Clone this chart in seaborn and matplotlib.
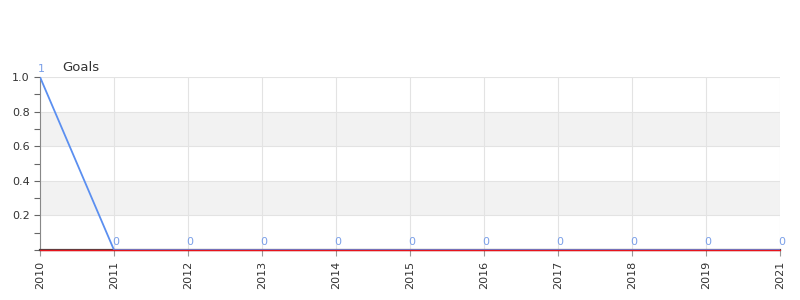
import matplotlib
matplotlib.use("Agg")
import matplotlib.pyplot as plt
import seaborn as sns
import pandas as pd
from matplotlib.ticker import MultipleLocator

years = ["2010", "2011", "2012", "2013", "2014", "2015", "2016", "2017", "2018", "2019", "2021"]
goals = [1, 0, 0, 0, 0, 0, 0, 0, 0, 0, 0]
baseline = [0] * len(years)
title = "Goals"

sns.set_theme(style="white")
plt.rcParams['font.family'] = ['DejaVu Sans']

df = pd.DataFrame({"year": years, "goals": goals, "baseline": baseline})

fig = plt.figure(figsize=(8, 3), dpi=100)
ax = fig.add_axes([0.05, 0.1667, 0.925, 0.5766])

# alternating bands
for lo, hi in [(0.2, 0.4), (0.6, 0.8)]:
    ax.axhspan(lo, hi, color="#f2f2f2", zorder=0, lw=0)
for y in [0.2, 0.4, 0.6, 0.8, 1.0]:
    ax.axhline(y, color="#e3e3e3", lw=0.8, zorder=0.5)
for i in range(len(years)):
    ax.axvline(i, color="#e3e3e3", lw=0.8, zorder=0.5)

sns.lineplot(data=df, x="year", y="goals", ax=ax, color="#5b8ff0", lw=1.3, zorder=3, sort=False)
sns.lineplot(data=df, x="year", y="baseline", ax=ax, color="#e8141c", lw=1.0, zorder=5,
             sort=False, clip_on=False)

for i, v in enumerate(goals):
    ax.text(i + 0.02, v + 0.02, str(v), color="#7a9fe8", fontsize=8, ha="center", va="bottom", zorder=6)

ax.set_xlim(0, len(years) - 1)
ax.set_ylim(0, 1.0)
ax.set_xticks(range(len(years)))
ax.set_xticklabels(years, rotation=90, fontsize=8, color="#333333")
ax.set_yticks([0.2, 0.4, 0.6, 0.8, 1.0])
ax.set_yticklabels(["0.2", "0.4", "0.6", "0.8", "1.0"], fontsize=8, color="#333333")
ax.yaxis.set_minor_locator(MultipleLocator(0.1))
ax.tick_params(axis="y", which="both", left=True, length=4, color="#666666", width=0.8)
ax.tick_params(axis="x", bottom=True, length=4, color="#999999", width=0.8)
ax.set_xlabel("")
ax.set_ylabel("")

for s in ["top", "right"]:
    ax.spines[s].set_visible(False)
ax.spines["left"].set_color("#888888")
ax.spines["left"].set_linewidth(0.8)
ax.spines["bottom"].set_color("#444444")
ax.spines["bottom"].set_linewidth(1.6)

fig.text(62 / 800, 1 - 67 / 300, title, fontsize=9.5, color="#333333", ha="left", va="center")

fig.savefig("out.png", dpi=100)
